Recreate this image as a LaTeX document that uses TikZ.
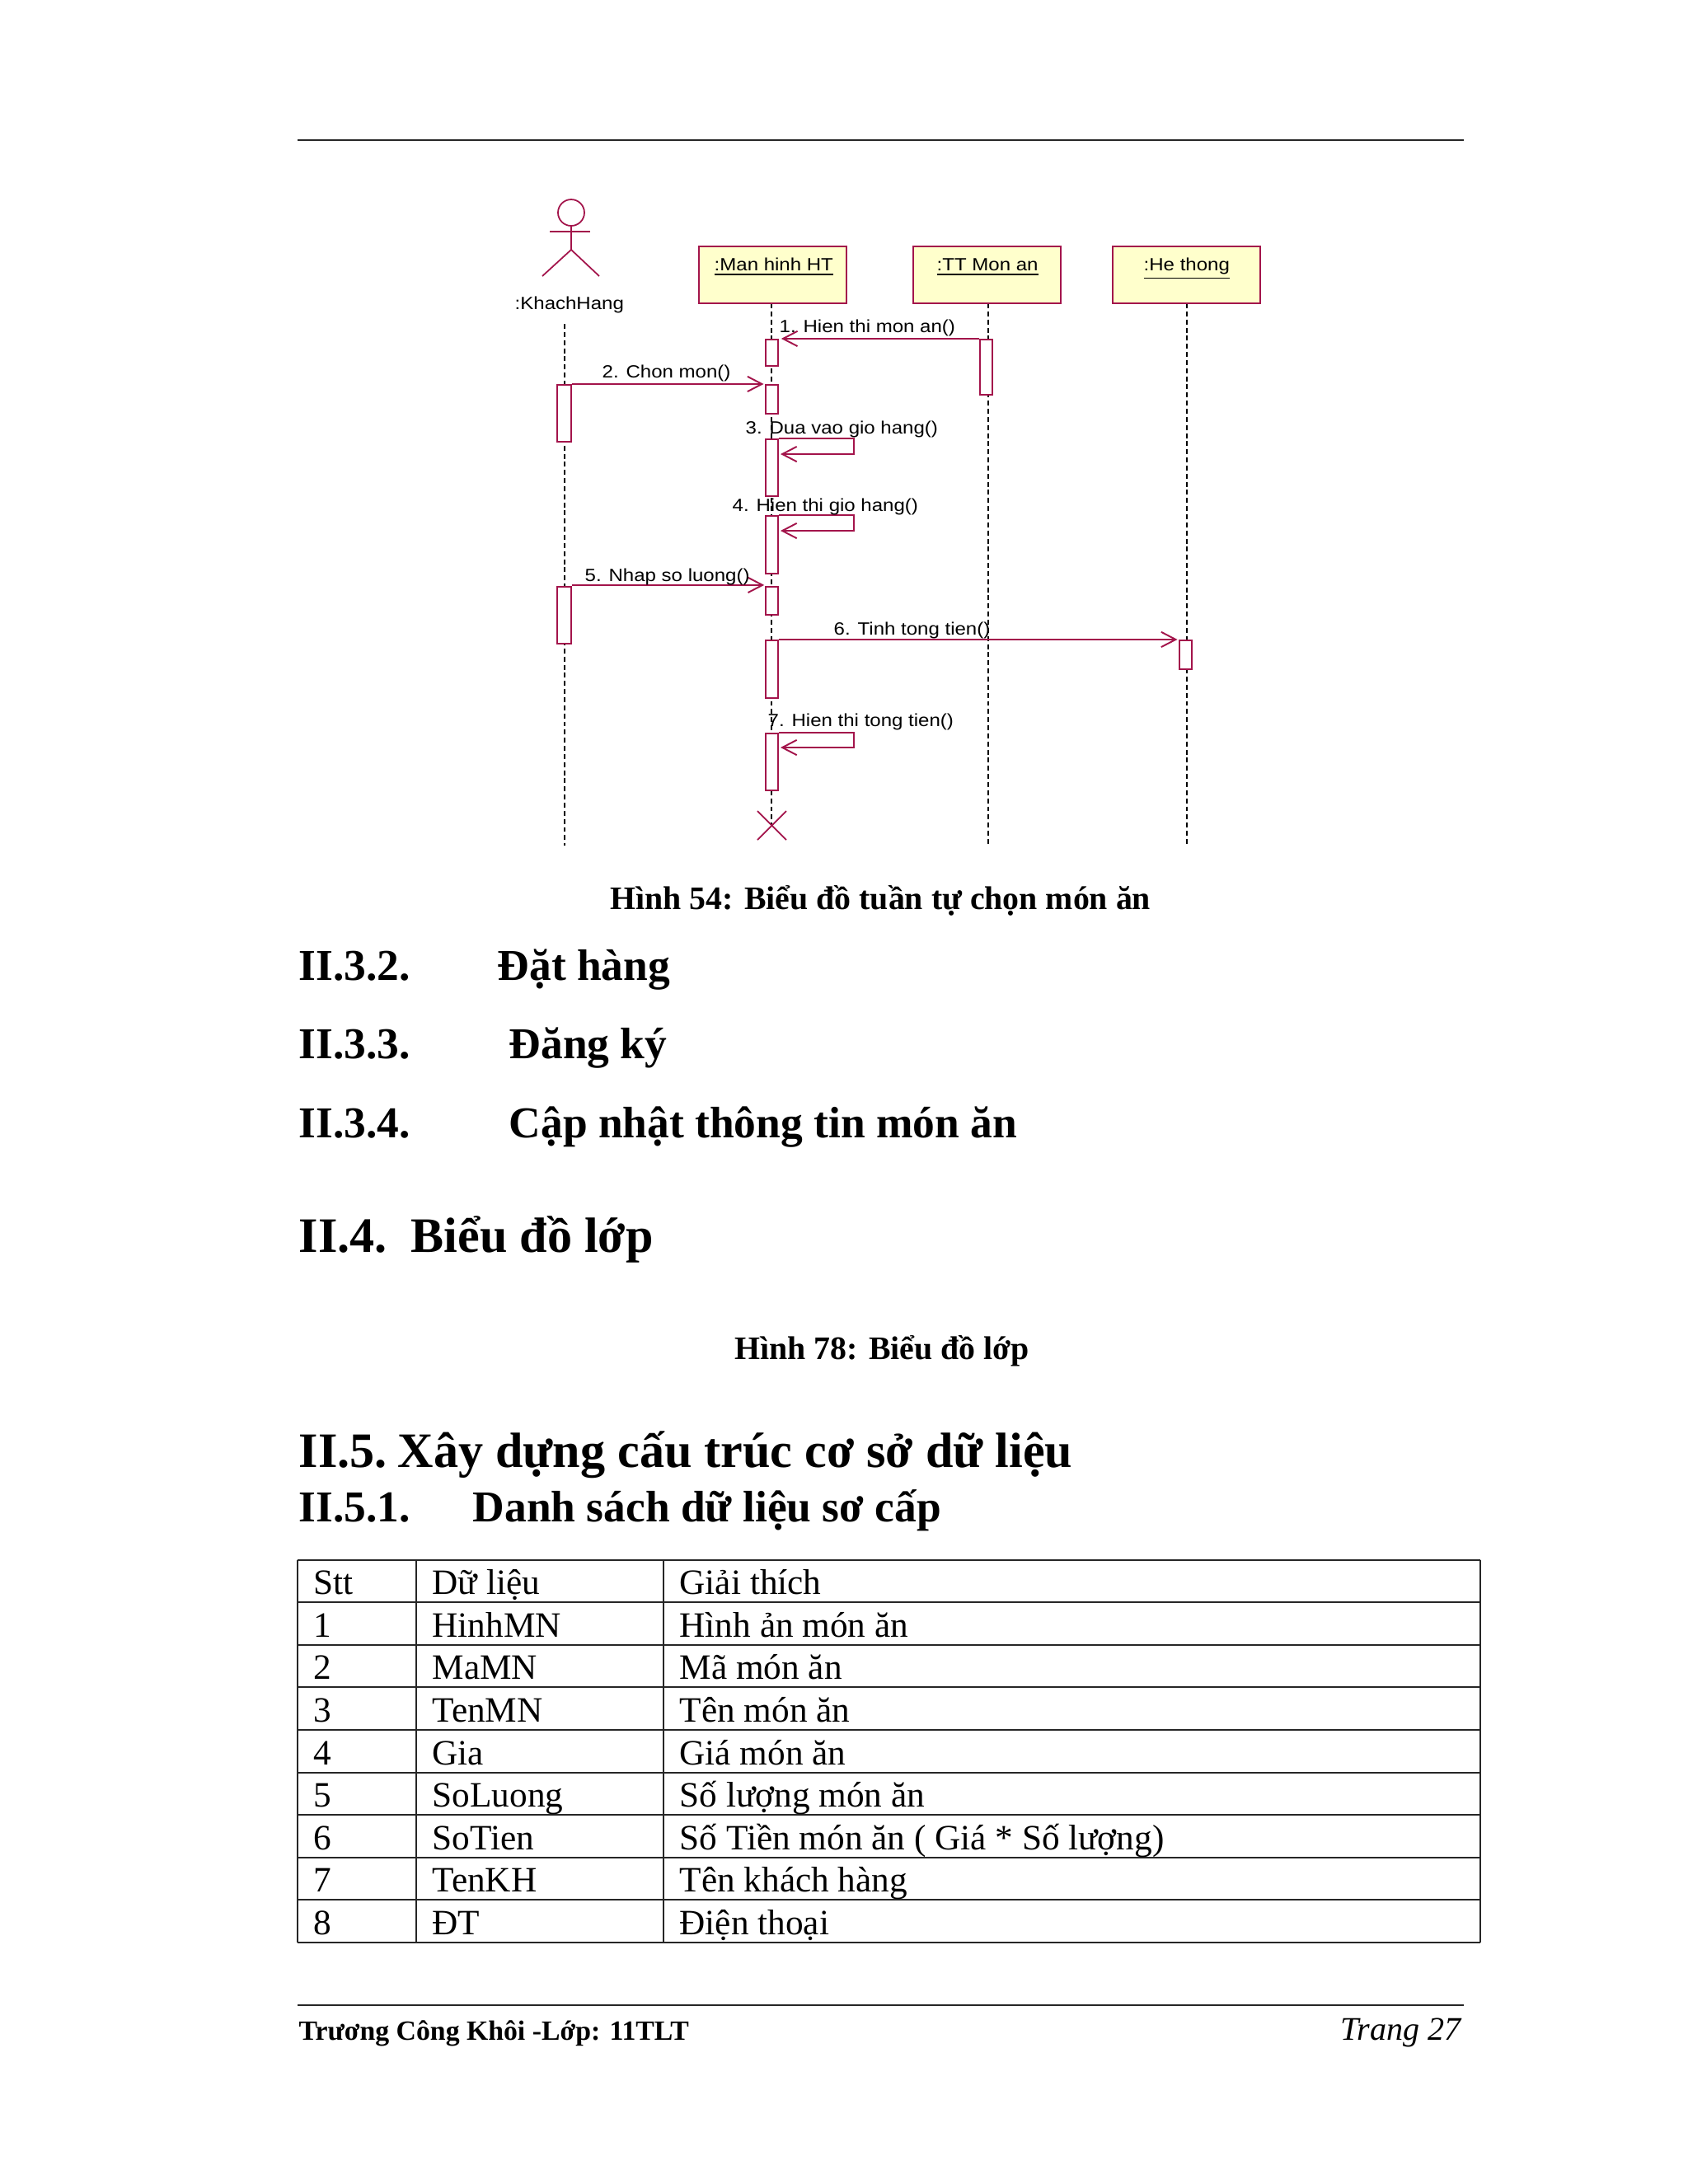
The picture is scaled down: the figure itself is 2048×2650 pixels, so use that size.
\documentclass[tikz,border=0pt]{standalone}
\usepackage{fontspec}
\setmainfont{Liberation Serif}
\newfontfamily\umlfont[FakeStretch=1.12]{Liberation Sans}
\usetikzlibrary{arrows.meta,fit}
\definecolor{umlred}{HTML}{A3144B}
\definecolor{umlfill}{HTML}{FFFFCC}
\tikzset{
 x=0.01cm,y=-0.01cm,
 umlbox/.style={draw=umlred,fill=umlfill,line width=0.65pt,inner sep=0pt},
 actbar/.style={draw=umlred,fill=white,line width=0.6pt,inner sep=0pt},
 msg/.style={draw=umlred,line width=0.55pt,-{Straight Barb[length=5pt,width=5.2pt]}},
 umlline/.style={draw=umlred,line width=0.5pt},
 life/.style={draw=black,line width=0.42pt,dash pattern=on 1.7pt off 1.1pt},
 umltxt/.style={inner sep=0pt,anchor=base west,font=\umlfont\fontsize{6.1pt}{7pt}\selectfont,text=black},
 pagetxt/.style={inner sep=0pt,anchor=base west,text=black},
 captxt/.style={pagetxt,font=\bfseries\fontsize{11.32pt}{14pt}\selectfont},
 subh/.style={pagetxt,font=\bfseries\fontsize{15.2pt}{17pt}\selectfont},
 mainh/.style={pagetxt,font=\bfseries\fontsize{17.1pt}{20pt}\selectfont},
 celltxt/.style={pagetxt,font=\fontsize{12.3pt}{14pt}\selectfont},
 rulel/.style={draw=black!85,line width=0.6pt},
 tablerule/.style={draw=black!85,line width=0.6pt},
}
\newcommand{\actbox}[5]{\node[actbar,fit={(#2,#3)(#4,#5)}] (#1) {};}
\begin{document}
\begin{tikzpicture}
\useasboundingbox (0,0) rectangle (2048,2650);
\fill[white] (0,0) rectangle (2048,2650);
% page rules
\coordinate (rt1) at (361,170); \coordinate (rt2) at (1776,170);
\draw[rulel] (rt1) -- (rt2);
\coordinate (rb1) at (361,2433); \coordinate (rb2) at (1776,2433);
\draw[rulel] (rb1) -- (rb2);
% lifeline anchors
\coordinate (khTop) at (685,393); \coordinate (khEnd) at (685,1026);
\coordinate (mhTop) at (936,368); \coordinate (mhEnd) at (936,1002);
\coordinate (ttTop) at (1199,368); \coordinate (ttEnd) at (1199,1026);
\coordinate (heTop) at (1440,368); \coordinate (heEnd) at (1440,1026);
\draw[life] (khTop) -- (khEnd);
\draw[life] (mhTop) -- (mhEnd);
\draw[life] (ttTop) -- (ttEnd);
\draw[life] (heTop) -- (heEnd);
% objects
\node[umlbox,fit={(848,299)(1027,368)}] (boxM) {};
\node[umlbox,fit={(1108,299)(1287,368)}] (boxT) {};
\node[umlbox,fit={(1350,299)(1529,368)}] (boxH) {};
\node[umltxt] (lblM) at (866,328) {\underline{:Man hinh HT}};
\node[umltxt] (lblT) at (1136,328) {\underline{:TT Mon an}};
\node[umltxt] (lblH) at (1387,328) {\underline{:He thong}};
% actor
\draw[umlline] (693,258) ellipse (16 and 16);
\coordinate (neck) at (693,274); \coordinate (hip) at (693,303);
\coordinate (armL) at (667,281); \coordinate (armR) at (716,281);
\coordinate (legL) at (658,335); \coordinate (legR) at (727,335);
\draw[umlline] (neck) -- (hip);
\draw[umlline] (armL) -- (armR);
\draw[umlline] (legL) -- (hip) -- (legR);
\node[umltxt] (lblK) at (624,375) {:KhachHang};
% activations
\actbox{m1}{929}{412}{944}{444}
\actbox{t1}{1189}{412}{1204}{479}
\actbox{k2}{676}{467}{693}{536}
\actbox{m2}{929}{467}{944}{502}
\actbox{m3}{929}{533}{944}{602}
\actbox{m4}{929}{626}{944}{696}
\actbox{k5}{676}{712}{693}{781}
\actbox{m5}{929}{712}{944}{746}
\actbox{m6}{929}{777}{944}{847}
\actbox{h6}{1431}{777}{1446}{812}
\actbox{m7}{929}{890}{944}{959}
% messages
\draw[msg] (t1.north west) -- ([xshift=0.8pt]m1.north east);
\draw[msg] (k2.north east) -- ([xshift=-0.4pt]m2.north west);
\coordinate (s3) at (1036,551); \coordinate (e3) at (947,551);
\draw[msg] (m3.north east) -| (s3) -- (e3);
\coordinate (s4) at (1036,644); \coordinate (e4) at (947,644);
\draw[msg] (m4.north east) -| (s4) -- (e4);
\draw[msg] ([yshift=0.3pt]k5.north east) -- ([xshift=-0.2pt,yshift=0.3pt]m5.north west);
\draw[msg] (m6.north east) -- ([xshift=-0.4pt]h6.north west);
\coordinate (s7) at (1036,907); \coordinate (e7) at (947,907);
\draw[msg] (m7.north east) -| (s7) -- (e7);
% destruction
\coordinate (xa) at (919,984); \coordinate (xb) at (954,1019);
\coordinate (xc) at (954,984); \coordinate (xd) at (919,1019);
\draw[umlline] (xa) -- (xb);
\draw[umlline] (xc) -- (xd);
% message labels
\node[umltxt] (l1) at (945,403) {1. Hien thi mon an()};
\node[umltxt] (l2) at (730,458) {2. Chon mon()};
\node[umltxt] (l3) at (904,526) {3. Dua vao gio hang()};
\node[umltxt] (l4) at (888,620) {4. Hien thi gio hang()};
\node[umltxt] (l5) at (709,705) {5. Nhap so luong()};
\node[umltxt] (l6) at (1011,770) {6. Tinh tong tien()};
\node[umltxt] (l7) at (931,881) {7. Hien thi tong tien()};
% page text
\node[captxt] (c54) at (740,1103) {Hình 54: Biểu đồ tuần tự chọn món ăn};
\node[subh] (h32) at (362,1189.5) {II.3.2.};
\node[subh] (h32b) at (603,1189.5) {Đặt hàng};
\node[subh] (h33) at (362,1284.5) {II.3.3.};
\node[subh] (h33b) at (617,1284.5) {Đăng ký};
\node[subh] (h34) at (362,1380.5) {II.3.4.};
\node[subh] (h34b) at (617,1380.5) {Cập nhật thông tin món ăn};
\node[mainh] (h4) at (362,1519) {II.4.};
\node[mainh] (h4b) at (498,1519) {Biểu đồ lớp};
\node[captxt] (c78) at (891,1649) {Hình 78: Biểu đồ lớp};
\node[mainh] (h5) at (362,1780) {II.5.};
\node[mainh] (h5b) at (482,1780) {Xây dựng cấu trúc cơ sở dữ liệu};
\node[subh] (h51) at (362,1846) {II.5.1.};
\node[subh] (h51b) at (573,1846) {Danh sách dữ liệu sơ cấp};
% table
\foreach \r in {0,...,9} {
  \coordinate (tl\r) at (361,{1892.6+51.6*\r});
  \coordinate (tr\r) at (1796,{1892.6+51.6*\r});
  \draw[tablerule] (tl\r) -- (tr\r);
}
\foreach \cx in {361,505,805,1796} {
  \coordinate (tu\cx) at (\cx,1892.6);
  \coordinate (td\cx) at (\cx,2357);
  \draw[tablerule] (tu\cx) -- (td\cx);
}
\foreach \r/\a/\b/\c in {0/Stt/Dữ liệu/Giải thích,1/1/HinhMN/Hình ản món ăn,2/2/MaMN/Mã món ăn,3/3/TenMN/Tên món ăn,4/4/Gia/Giá món ăn,5/5/SoLuong/Số lượng món ăn,6/6/SoTien/Số Tiền món ăn ( Giá * Số lượng),7/7/TenKH/Tên khách hàng,8/8/ĐT/Điện thoại} {
  \node[celltxt] (ca\r) at (380,{1934.6+51.6*\r}) {\a};
  \node[celltxt] (cb\r) at (524,{1934.6+51.6*\r}) {\b};
  \node[celltxt] (cc\r) at (824,{1934.6+51.6*\r}) {\c};
}
% footer
\node[pagetxt,font=\bfseries\fontsize{9.6pt}{12pt}\selectfont] (ftL) at (362,2475) {Trương Công Khôi -Lớp: 11TLT};
\node[pagetxt,anchor=base east,font=\itshape\fontsize{11.4pt}{13pt}\selectfont] (ftR) at (1773,2475) {Trang 27};
\end{tikzpicture}
\end{document}
